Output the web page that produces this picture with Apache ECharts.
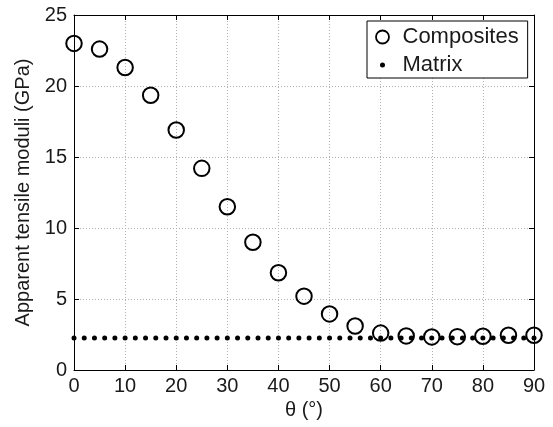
<!DOCTYPE html>
<html>
<head>
<meta charset="utf-8">
<script src="https://cdn.jsdelivr.net/npm/echarts@6/dist/echarts.min.js"></script>
<style>
  html, body { margin: 0; padding: 0; background: #fff; }
  #chart { width: 553px; height: 427px; }
</style>
</head>
<body>
<div id="chart"></div>
<script>
// Fibre orientation angle (degrees) of the composite specimens
const thetaComposites = [0, 5, 10, 15, 20, 25, 30, 35, 40, 45, 50, 55, 60, 65, 70, 75, 80, 85, 90];
// Apparent tensile modulus of the composites (GPa)
const moduliComposites = [23.0, 22.6, 21.3, 19.35, 16.9, 14.2, 11.5, 9.0, 6.85, 5.2, 3.95, 3.1, 2.6, 2.4, 2.33, 2.35, 2.38, 2.45, 2.45];
// Angles at which the neat-matrix reference level is drawn
const thetaMatrix = [0, 2, 4, 6, 8, 10, 12, 14, 16, 18, 20, 22, 24, 26, 28, 30, 32, 34, 36, 38, 40, 42, 44,
  46, 48, 50, 52, 54, 56, 58, 60, 62, 64, 66, 68, 70, 72, 74, 76, 78, 80, 82, 84, 86, 88, 90];
// Tensile modulus of the neat matrix (GPa)
const moduliMatrix = [2.25, 2.25, 2.25, 2.25, 2.25, 2.25, 2.25, 2.25, 2.25, 2.25, 2.25, 2.25, 2.25, 2.25, 2.25, 2.25,
  2.25, 2.25, 2.25, 2.25, 2.25, 2.25, 2.25, 2.25, 2.25, 2.25, 2.25, 2.25, 2.25, 2.25, 2.25, 2.25, 2.25, 2.25,
  2.25, 2.25, 2.25, 2.25, 2.25, 2.25, 2.25, 2.25, 2.25, 2.25, 2.25, 2.25];

const seriesNames = ['Composites', 'Matrix'];
const xAxisName = 'θ (°)';
const yAxisName = 'Apparent tensile moduli (GPa)';

const FONT = 'Liberation Sans, Arial, sans-serif';
const TEXT = '#1a1a1a';

function pairs(xs, ys) {
  return xs.map((x, i) => [x, ys[i]]);
}

const axisLine = { show: true, onZero: false, lineStyle: { color: '#000', width: 1 } };
const insideTick = { show: true, inside: true, length: 5, lineStyle: { color: '#000', width: 1 } };
const gridLine = { show: true, lineStyle: { color: '#b0b0b0', width: 1, type: [1, 2] } };

const chart = echarts.init(document.getElementById('chart'), null, { renderer: 'canvas' });

chart.setOption({
  animation: false,
  backgroundColor: '#fff',
  grid: { left: 74, right: 19, top: 15, bottom: 57, containLabel: false },
  legend: {
    orient: 'vertical',
    left: 367,
    top: 21,
    padding: [5, 9, 2, 5],
    itemGap: 6,
    // wide item box: the circle icon sits centred in it, leaving room before the text
    itemWidth: 30,
    itemHeight: 13,
    backgroundColor: '#fff',
    borderColor: '#000',
    borderWidth: 1,
    borderRadius: 0,
    textStyle: { fontFamily: FONT, fontSize: 22, color: TEXT },
    data: [
      { name: seriesNames[0], icon: 'circle',
        itemStyle: { color: 'rgba(0,0,0,0)', borderColor: '#000', borderWidth: 1.8, opacity: 1 } },
      { name: seriesNames[1], icon: 'circle',
        itemStyle: { color: '#000', borderColor: '#fff', borderWidth: 8, opacity: 1 } }
    ]
  },
  xAxis: [
    {
      type: 'value', position: 'bottom', min: 0, max: 90, interval: 10,
      name: xAxisName, nameLocation: 'middle', nameGap: 30,
      nameTextStyle: { fontFamily: FONT, fontSize: 20, color: TEXT },
      axisLine: axisLine, axisTick: insideTick,
      axisLabel: { fontFamily: FONT, fontSize: 20, color: TEXT, margin: 6 },
      splitLine: gridLine
    },
    {
      type: 'value', position: 'top', min: 0, max: 90, interval: 10,
      axisLine: axisLine, axisTick: insideTick,
      axisLabel: { show: false }, splitLine: { show: false }
    }
  ],
  yAxis: [
    {
      type: 'value', position: 'left', min: 0, max: 25, interval: 5,
      name: yAxisName, nameLocation: 'middle', nameGap: 38,
      nameTextStyle: { fontFamily: FONT, fontSize: 20, color: TEXT },
      axisLine: axisLine, axisTick: insideTick,
      axisLabel: { fontFamily: FONT, fontSize: 20, color: TEXT, margin: 7 },
      splitLine: gridLine
    },
    {
      type: 'value', position: 'right', min: 0, max: 25, interval: 5,
      axisLine: axisLine, axisTick: insideTick,
      axisLabel: { show: false }, splitLine: { show: false }
    }
  ],
  series: [
    {
      name: seriesNames[1],
      type: 'scatter',
      symbol: 'circle',
      symbolSize: 5,
      itemStyle: { color: '#000', opacity: 1 },
      data: pairs(thetaMatrix, moduliMatrix),
      z: 3
    },
    {
      name: seriesNames[0],
      type: 'scatter',
      symbol: 'circle',
      symbolSize: 15.5,
      itemStyle: { color: 'rgba(0,0,0,0)', borderColor: '#000', borderWidth: 2, opacity: 1 },
      data: pairs(thetaComposites, moduliComposites),
      z: 2
    }
  ]
});
</script>
</body>
</html>
